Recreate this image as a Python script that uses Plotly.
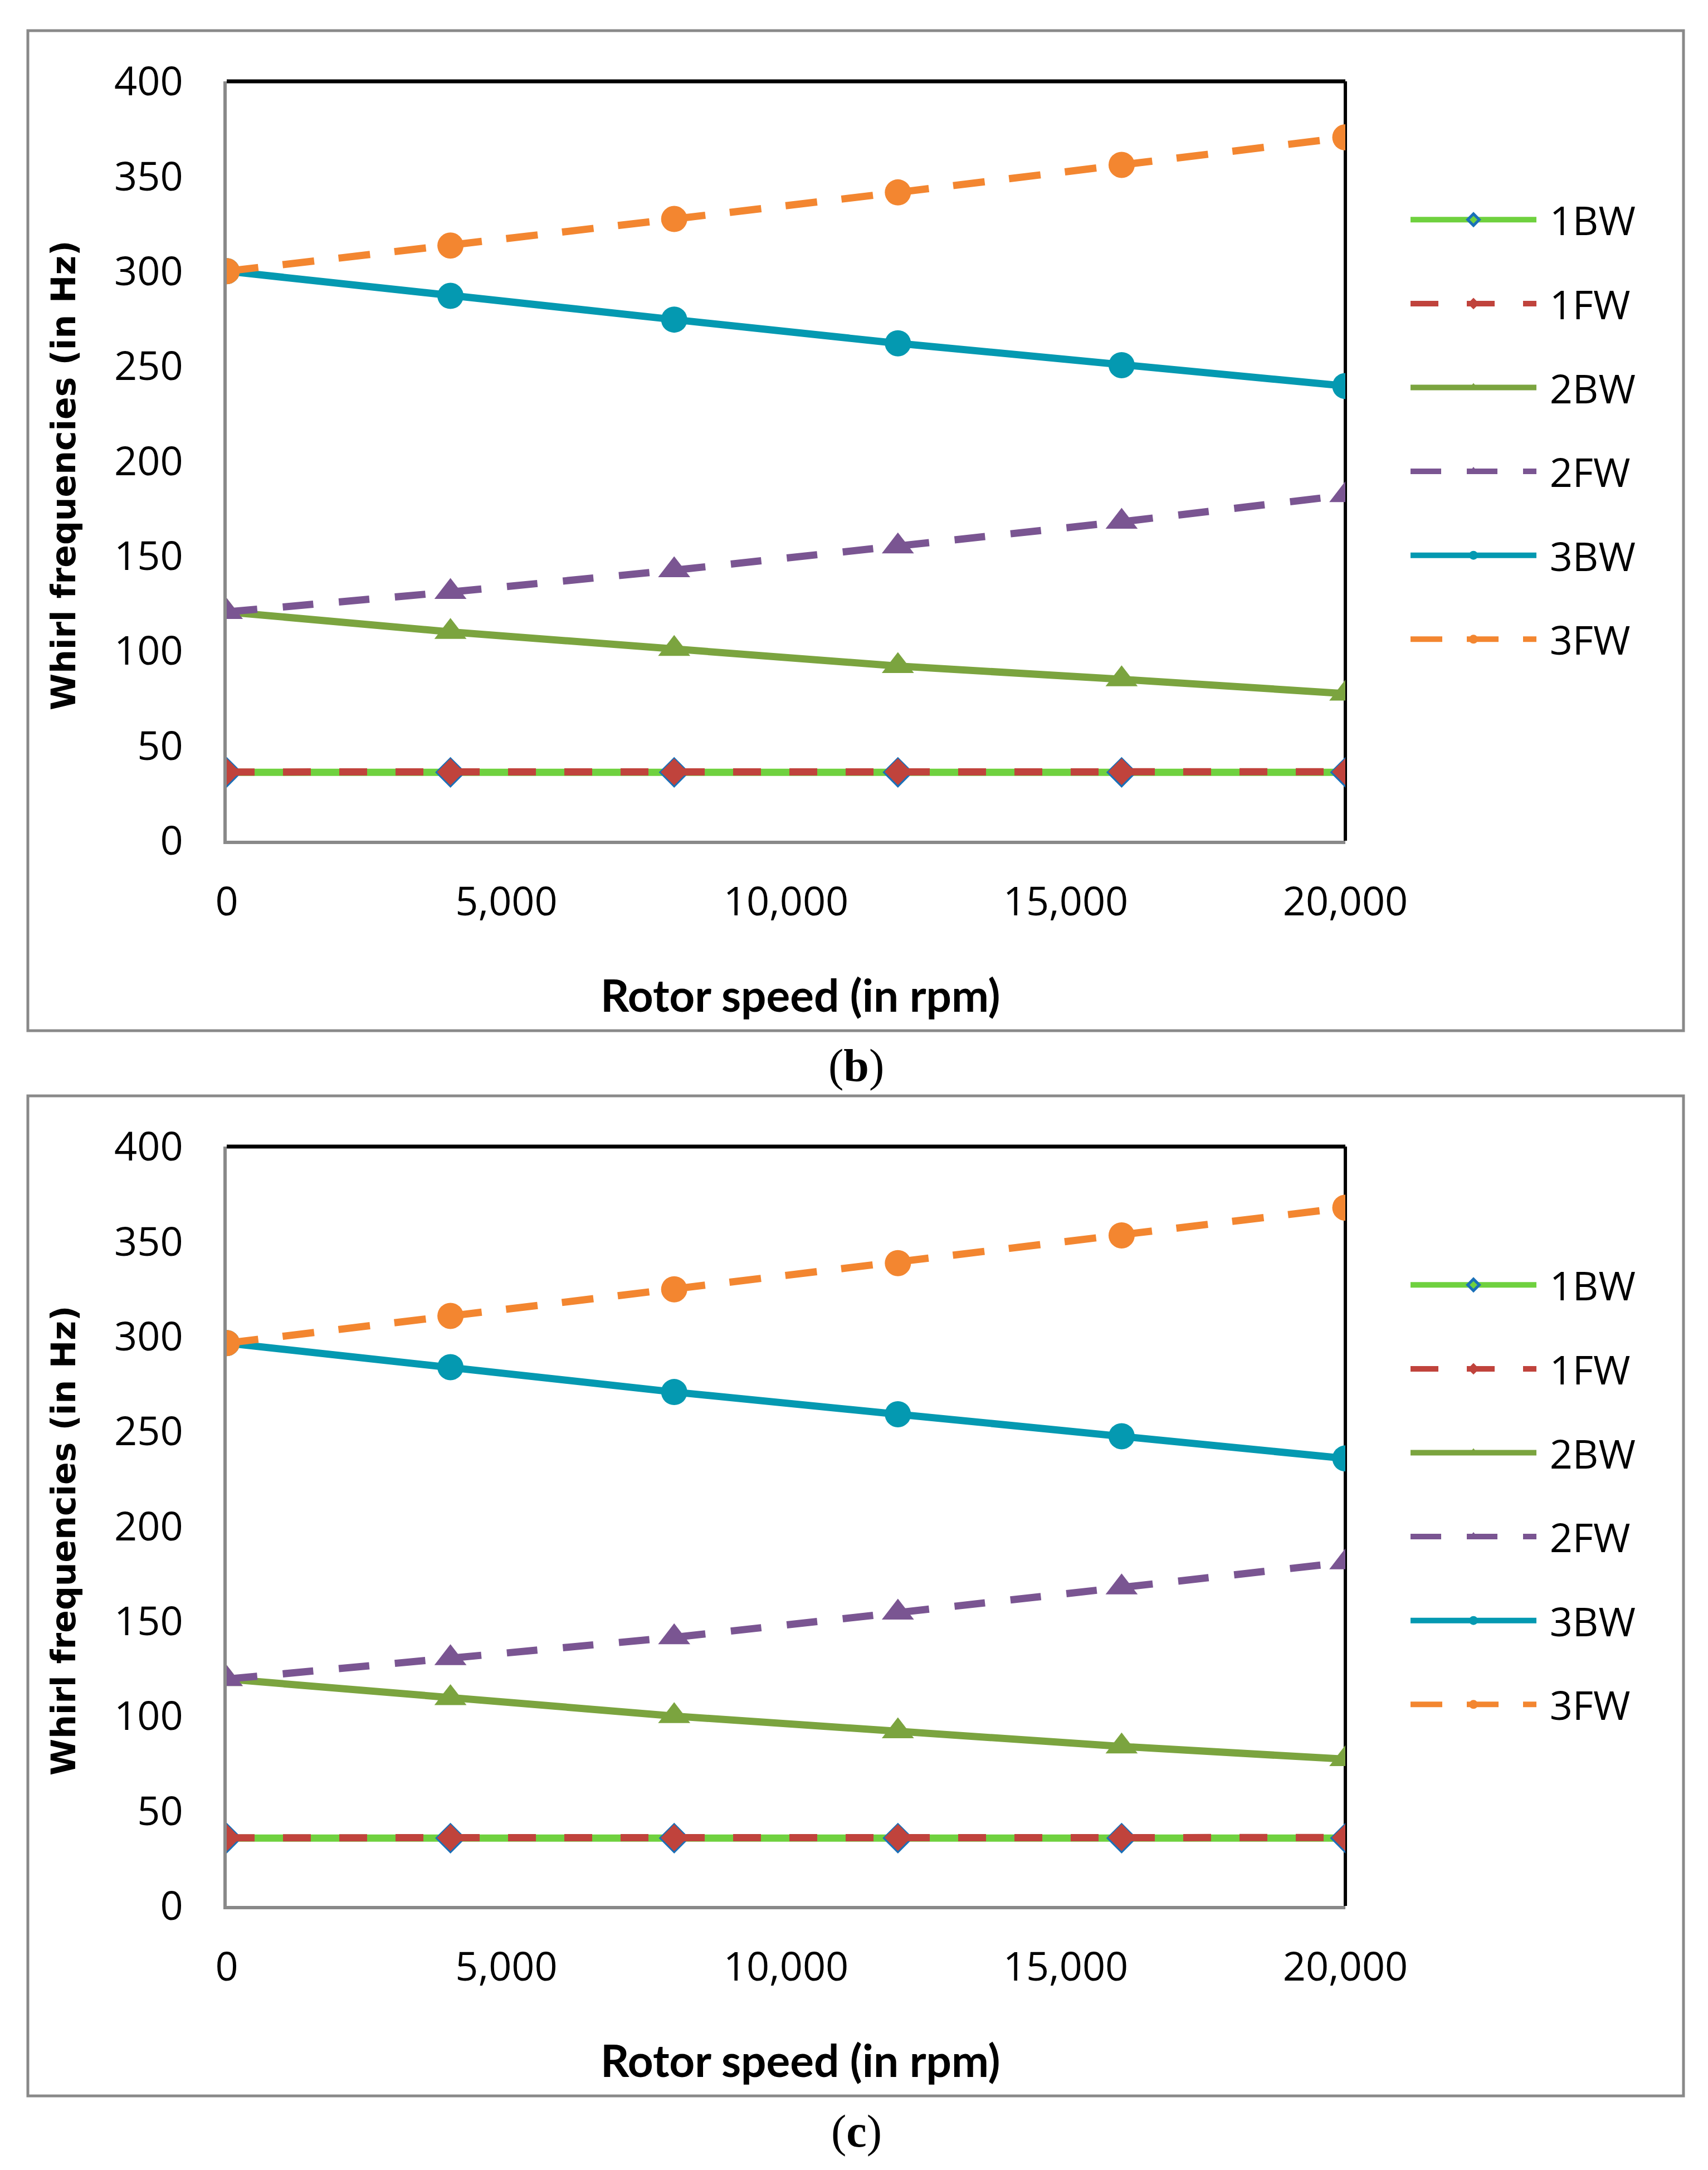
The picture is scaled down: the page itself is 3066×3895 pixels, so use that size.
import plotly.graph_objects as go

# ---------------- data ----------------
rotor_speed = [0, 4000, 8000, 12000, 16000, 20000]
series_names = ["1BW", "1FW", "2BW", "2FW", "3BW", "3FW"]

# panel (b)
b_1BW = [36.0, 36.0, 36.0, 36.0, 36.0, 36.0]
b_1FW = [36.2, 36.2, 36.2, 36.3, 36.3, 36.3]
b_2BW = [120.5, 110.0, 101.0, 92.0, 85.0, 77.5]
b_2FW = [120.5, 131.0, 142.5, 155.0, 168.0, 182.0]
b_3BW = [300.0, 287.0, 274.5, 262.0, 250.5, 239.5]
b_3FW = [300.0, 313.5, 327.5, 341.5, 356.0, 370.5]

# panel (c)
c_1BW = [35.7, 35.7, 35.7, 35.7, 35.7, 35.7]
c_1FW = [35.9, 35.9, 35.9, 36.0, 36.0, 36.0]
c_2BW = [119.5, 109.5, 100.0, 92.0, 84.0, 77.3]
c_2FW = [119.5, 130.5, 141.5, 154.5, 167.8, 181.0]
c_3BW = [296.5, 283.8, 270.7, 259.0, 247.4, 235.7]
c_3FW = [296.5, 310.8, 324.8, 338.6, 353.2, 367.8]

x_tick_vals = [0, 5000, 10000, 15000, 20000]
y_tick_vals = [0, 50, 100, 150, 200, 250, 300, 350, 400]

# ---------------- styles ----------------
W, H = 3066, 3895
TICK_FONT = dict(family="Open Sans", size=72, color="black")

styles = {
    "1BW": dict(color="#6FD13F", dash="solid", symbol="diamond", msize=37,
                mline=dict(color="#1A70B8", width=5)),
    "1FW": dict(color="#C0433C", dash="50px,51px", symbol="diamond", msize=37,
                mline=dict(color="#C0433C", width=0)),
    "2BW": dict(color="#7BA43F", dash="solid", symbol="triangle-up", msize=50,
                mline=dict(color="#7BA43F", width=0)),
    "2FW": dict(color="#7A5592", dash="55px,46px", symbol="triangle-up", msize=50,
                mline=dict(color="#7A5592", width=0)),
    "3BW": dict(color="#0499B1", dash="solid", symbol="circle", msize=47,
                mline=dict(color="#0499B1", width=0)),
    "3FW": dict(color="#F38630", dash="57px,44px", symbol="circle", msize=47,
                mline=dict(color="#F38630", width=0)),
}

panels = [
    dict(data=[b_1BW, b_1FW, b_2BW, b_2FW, b_3BW, b_3FW], xa="x", ya="y", legend="legend"),
    dict(data=[c_1BW, c_1FW, c_2BW, c_2FW, c_3BW, c_3FW], xa="x2", ya="y2", legend="legend2"),
]

fig = go.Figure()
for pi, p in enumerate(panels):
    for name, vals in zip(series_names, p["data"]):
        s = styles[name]
        fig.add_trace(go.Scatter(
            x=rotor_speed, y=vals, name="\u00a0" + name, mode="lines+markers",
            xaxis=p["xa"], yaxis=p["ya"], legend=p["legend"],
            legendgroup=f"{name}_{pi}",
            line=dict(color=s["color"], width=13, dash=s["dash"]),
            marker=dict(symbol=s["symbol"], size=s["msize"], color=s["color"],
                        line=s["mline"]),
        ))

# plot-area geometry (pixels)
px_left, px_right = 407, 2415
top_plot = (146, 1509)
bot_plot = (2058, 3421)

def py(v):
    return 1 - v / H

def pxx(v):
    return v / W

axis_common = dict(
    showgrid=False, zeroline=False, showline=True, linecolor="#898989",
    linewidth=6, ticks="", tickfont=TICK_FONT, layer="below traces",
)

layout = dict(
    width=W, height=H, margin=dict(l=0, r=0, t=0, b=0, pad=0, autoexpand=False),
    paper_bgcolor="white", plot_bgcolor="white",
    showlegend=True,
)
for i, (t, b) in enumerate([top_plot, bot_plot]):
    sfx = "" if i == 0 else str(i + 1)
    layout["xaxis" + sfx] = dict(axis_common, domain=[pxx(px_left), pxx(px_right)],
                                 range=[0, 20000], tickvals=x_tick_vals,
                                 tickformat=",d", anchor="y" + sfx,
                                 ticklabelstandoff=42)
    layout["yaxis" + sfx] = dict(axis_common, domain=[py(b), py(t)],
                                 range=[0, 400], tickvals=y_tick_vals,
                                 anchor="x" + sfx, ticklabelstandoff=58)

legend_common = dict(
    font=dict(family="Open Sans", size=72, color="black"),
    itemwidth=226, tracegroupgap=54, bgcolor="rgba(0,0,0,0)",
    xanchor="left", yanchor="top", valign="middle",
)
layout["legend"] = dict(legend_common, x=pxx(2527), y=py(341))
layout["legend2"] = dict(legend_common, x=pxx(2527), y=py(341 + 1912))

shapes = []
annotations = []
for i, (t, b) in enumerate([top_plot, bot_plot]):
    off = 0 if i == 0 else 1912
    sfx = "" if i == 0 else str(i + 1)
    # outer frame
    shapes.append(dict(type="rect", xref="paper", yref="paper",
                       x0=pxx(50), x1=pxx(3022), y0=py(1850 + off), y1=py(55 + off),
                       line=dict(color="#898989", width=5), layer="below"))
    # black top and right borders of plot area
    shapes.append(dict(type="line", xref="x" + sfx + " domain", yref="y" + sfx + " domain",
                       x0=0, x1=1, y0=1, y1=1, line=dict(color="black", width=7),
                       layer="below"))
    shapes.append(dict(type="line", xref="x" + sfx + " domain", yref="y" + sfx + " domain",
                       x0=1, x1=1, y0=0, y1=1, line=dict(color="black", width=6),
                       layer="below"))
    # axis titles
    annotations.append(dict(text="<b>Whirl frequencies (in Hz)</b>", textangle=-90,
                            xref="paper", yref="paper", x=pxx(114), y=py(853 + off),
                            xanchor="center", yanchor="middle", showarrow=False,
                            font=dict(family="DejaVu Sans", size=60, color="black")))
    annotations.append(dict(text="<b>Rotor speed (in rpm)</b>",
                            xref="paper", yref="paper", x=pxx(1437), y=py(1785 + off),
                            xanchor="center", yanchor="middle", showarrow=False,
                            font=dict(family="Lato", size=80, color="black")))
    # panel label
    annotations.append(dict(text="(<b>%s</b>)" % ("b" if i == 0 else "c"),
                            xref="paper", yref="paper", x=pxx(1537), y=py(1913 + off),
                            xanchor="center", yanchor="middle", showarrow=False,
                            font=dict(family="Liberation Serif", size=82, color="black")))

layout["shapes"] = shapes
layout["annotations"] = annotations
fig.update_layout(**layout)

fig.write_html("out.html", config={"displayModeBar": False},
               post_script="document.body.style.margin='0';document.body.style.overflow='hidden';")
